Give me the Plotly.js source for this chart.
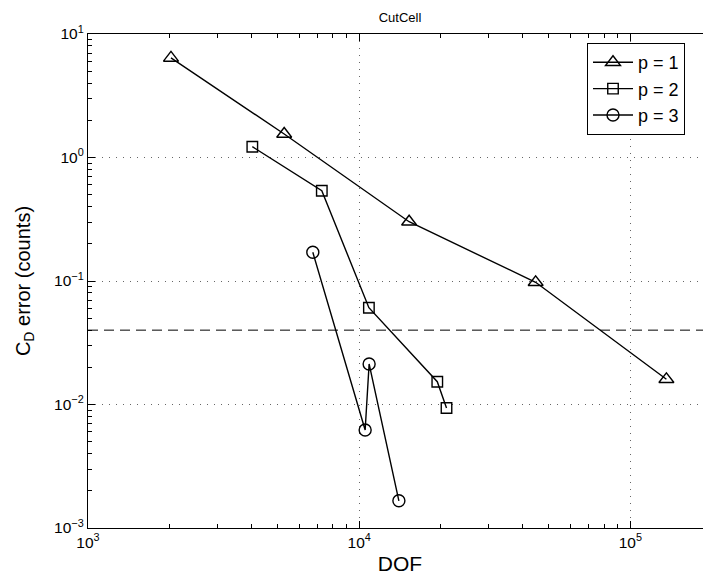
<!DOCTYPE html>
<html>
<head>
<meta charset="utf-8">
<script src="https://cdn.plot.ly/plotly-3.0.1.min.js"></script>
<style>
html, body { margin: 0; padding: 0; overflow: hidden; background: #fff; }
#chart { width: 730px; height: 584px; }
</style>
</head>
<body>
<div id="chart"></div>
<script>
// Data
const dofP1 = [2023, 5290, 15280, 44740, 135800];
const errP1 = [6.4, 1.55, 0.302, 0.0976, 0.016];
const dofP2 = [4036, 7280, 10860, 19410, 20990];
const errP2 = [1.223, 0.538, 0.0608, 0.0153, 0.00937];
const dofP3 = [6745, 10520, 10880, 14010];
const errP3 = [0.1707, 0.00622, 0.0213, 0.00166];
const seriesNames = ['p = 1', 'p = 2', 'p = 3'];
const thresholdValue = 0.04;

const xTickVals = [1e3, 1e4, 1e5];
const xTickText = ['10<sup>3</sup>', '10<sup>4</sup>', '10<sup>5</sup>'];
const yTickVals = [1e-3, 1e-2, 1e-1, 1e0, 1e1];
const yTickText = ['10<sup>−3</sup>', '10<sup>−2</sup>', '10<sup>−1</sup>', '10<sup>0</sup>', '10<sup>1</sup>'];

function minorVals(lo, hi) {
  const out = [];
  for (let e = lo; e < hi; e++) {
    for (let m = 2; m <= 9; m++) out.push(m * Math.pow(10, e));
  }
  return out;
}

const FONT = 'Liberation Sans, Arial, Helvetica, sans-serif';
const lineStyle = { color: 'black', width: 1.4 };

const traces = [
  { x: dofP1, y: errP1, name: seriesNames[0], mode: 'lines+markers', type: 'scatter',
    line: lineStyle, marker: { symbol: 'triangle-up-open', size: 13, color: 'black', line: { width: 1.4, color: 'black' } } },
  { x: dofP2, y: errP2, name: seriesNames[1], mode: 'lines+markers', type: 'scatter',
    line: lineStyle, marker: { symbol: 'square-open', size: 10.5, color: 'black', line: { width: 1.4, color: 'black' } } },
  { x: dofP3, y: errP3, name: seriesNames[2], mode: 'lines+markers', type: 'scatter',
    line: lineStyle, marker: { symbol: 'circle-open', size: 12, color: 'black', line: { width: 1.4, color: 'black' } } }
];

const axisCommon = {
  type: 'log',
  showline: true, linecolor: 'black', linewidth: 1.2,
  mirror: 'ticks', ticks: 'inside', ticklen: 7, tickwidth: 1, tickcolor: 'black',
  tickmode: 'array',
  showgrid: true, gridcolor: '#666', gridwidth: 1, griddash: '1px,6px',
  zeroline: false,
  tickfont: { family: FONT, size: 15.5, color: 'black' }
};

const layout = {
  width: 730, height: 584,
  margin: { l: 88, r: 18, t: 34, b: 56 },
  paper_bgcolor: 'white', plot_bgcolor: 'white',
  font: { family: FONT, color: 'black' },
  title: { text: 'CutCell', font: { family: FONT, size: 13, color: 'black' },
           x: 0.5, xref: 'paper', xanchor: 'center', y: 1 - 17 / 584, yref: 'container', yanchor: 'middle' },
  xaxis: Object.assign({}, axisCommon, {
    range: [3, Math.log10(2e5)],
    tickvals: xTickVals, ticktext: xTickText,
    minor: { tickmode: 'array', tickvals: minorVals(3, 6), ticks: 'inside', ticklen: 4, tickcolor: 'black', showgrid: false },
    title: { text: 'DOF', font: { family: FONT, size: 21, color: 'black' }, standoff: 6 }
  }),
  yaxis: Object.assign({}, axisCommon, {
    range: [-3, 1],
    tickvals: yTickVals, ticktext: yTickText,
    minor: { tickmode: 'array', tickvals: minorVals(-3, 1), ticks: 'inside', ticklen: 4, tickcolor: 'black', showgrid: false },
    title: { text: 'C<sub>D</sub> error (counts)', font: { family: FONT, size: 20, color: 'black' }, standoff: 18 }
  }),
  shapes: [
    { type: 'line', xref: 'paper', x0: 0, x1: 1, yref: 'y', y0: thresholdValue, y1: thresholdValue,
      line: { color: 'black', width: 1, dash: '10px,6px' } }
  ],
  showlegend: true,
  legend: {
    x: (587 - 88) / 624, xanchor: 'left', y: (528 - 43) / 494, yanchor: 'top',
    bgcolor: 'white', bordercolor: 'black', borderwidth: 1,
    font: { family: FONT, size: 18, color: 'black' },
    itemwidth: 40
  }
};

Plotly.newPlot('chart', traces, layout, { staticPlot: true, displayModeBar: false });
</script>
</body>
</html>
